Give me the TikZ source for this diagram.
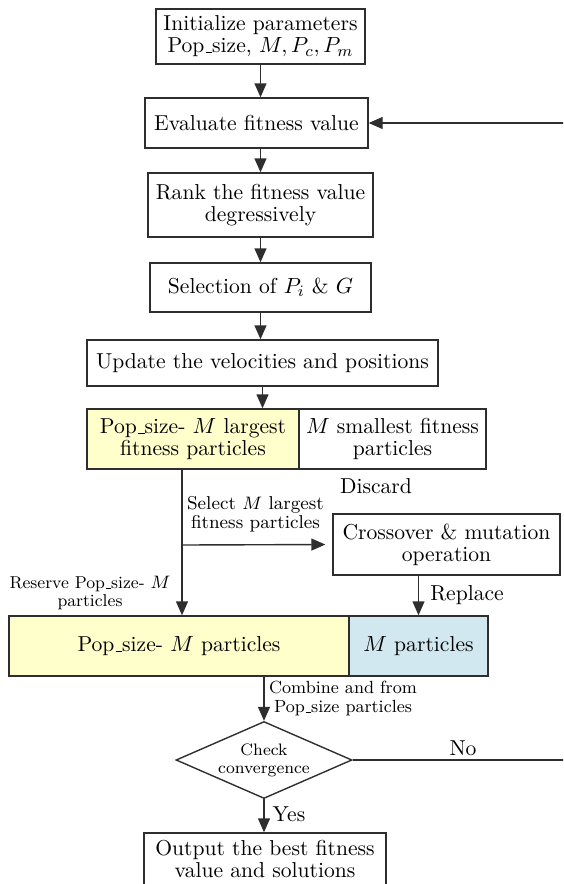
\documentclass[tikz,border=0pt]{standalone}
\usetikzlibrary{shapes.geometric,arrows.meta}
\definecolor{boxline}{HTML}{2E2E2E}
\definecolor{keepfill}{HTML}{FFFFCC}
\definecolor{newfill}{HTML}{D2E8F0}
% short baseline rule used as the underscore in "Pop_size"
\newcommand{\lowbar}{\leavevmode\kern.06em\vbox{\hrule width.3em}}
\begin{document}
\begin{tikzpicture}[x=0.5pt,y=-0.5pt,
  every node/.style={font=\fontsize{10.8}{11}\selectfont},
  procbox/.style={draw=boxline, line width=0.7pt, align=center, inner sep=0pt},
  decision/.style={diamond, draw=boxline, line width=0.7pt, aspect=2.29,
    inner sep=0pt, align=center, font=\fontsize{8.3}{9}\selectfont},
  labelsmall/.style={align=center, font=\fontsize{9.3}{9.5}\selectfont},
  flow/.style={draw=boxline, line width=0.7pt, -{Triangle[length=7pt,width=6pt]}}]
\useasboundingbox (0,0) rectangle (563,884);
\clip (0,0) rectangle (563,884);

% main column
\node[procbox, minimum width=104.5pt, minimum height=27.5pt] (init) at (260.5,36.5)
  {Initialize parameters\\Pop\lowbar size, $M, P_c, P_m$};
\node[procbox, minimum width=111.5pt, minimum height=25pt] (eval) at (256.5,123)
  {Evaluate fitness value};
\node[procbox, minimum width=112.5pt, minimum height=32pt] (rank) at (260.5,205)
  {Rank the fitness value\\degressively};
\node[procbox, minimum width=110.5pt, minimum height=24.5pt] (sel) at (260.5,287.5)
  {Selection of $P_i$ \& $G$};
\node[procbox, minimum width=175.5pt, minimum height=23pt] (upd) at (262.5,363)
  {Update the velocities and positions};

% split population
\node[procbox, fill=keepfill, minimum width=106pt, minimum height=30pt] (topL) at (193,439)
  {Pop\lowbar size- $M$ largest\\fitness particles};
\node[procbox, minimum width=93.5pt, minimum height=30pt] (topR) at (392.5,439)
  {$M$ smallest fitness\\particles};
\node[procbox, minimum width=113.5pt, minimum height=30.5pt] (cross) at (446.5,544.5)
  {Crossover \& mutation\\operation};

% recombined population
\node[procbox, fill=keepfill, minimum width=170pt, minimum height=30pt] (botL) at (179,646)
  {Pop\lowbar size- $M$ particles};
\node[procbox, fill=newfill, minimum width=69.5pt, minimum height=30pt] (botR) at (418.5,646)
  {$M$ particles};

\node[decision, minimum width=88pt, minimum height=38.5pt] (check) at (264,760)
  {Check\\convergence};
\node[procbox, minimum width=121pt, minimum height=26pt] (out) at (265,859)
  {Output the best fitness\\value and solutions};

% labels
\node[labelsmall] (sellbl) at (255.5,514) {Select $M$ largest\\fitness particles};
\node[labelsmall, font=\fontsize{8.6}{9}\selectfont] (reslbl) at (90,593)
  {Reserve Pop\lowbar size- $M$\\particles};
\node[labelsmall, font=\fontsize{8.8}{9.5}\selectfont] (comblbl) at (343,698.5)
  {Combine and from\\Pop\lowbar size particles};
\node (disc) at (376,486) {Discard};
\node (repl) at (467,595) {Replace};
\node (yes) at (289,814) {Yes};
\node (no) at (463,748) {No};

% connectors
\draw[flow] (init.south) -- (init.south |- eval.north);
\draw[flow] (rank.north |- eval.south) -- (rank.north);
\draw[flow] (rank.south) -- (sel.north);
\draw[flow] (sel.south) -- (sel.south |- upd.north);
\draw[flow] (upd.south) -- (upd.south |- topL.north);
\coordinate (fork) at (182,545);
\draw[flow] (fork |- topL.south) -- (fork |- botL.north);
\draw[flow, shorten >=3.5pt] (fork) -- (cross.west);
\draw[flow] (botR.north |- cross.south) -- (botR.north);
\draw[flow] (check.north |- botL.south) -- (check.north);
\draw[flow] (check.south) -- (check.south |- out.north);
\coordinate (loopturn) at (600,760);
\draw[flow] (check.east) -- (loopturn) |- (eval.east);
\end{tikzpicture}
\end{document}
